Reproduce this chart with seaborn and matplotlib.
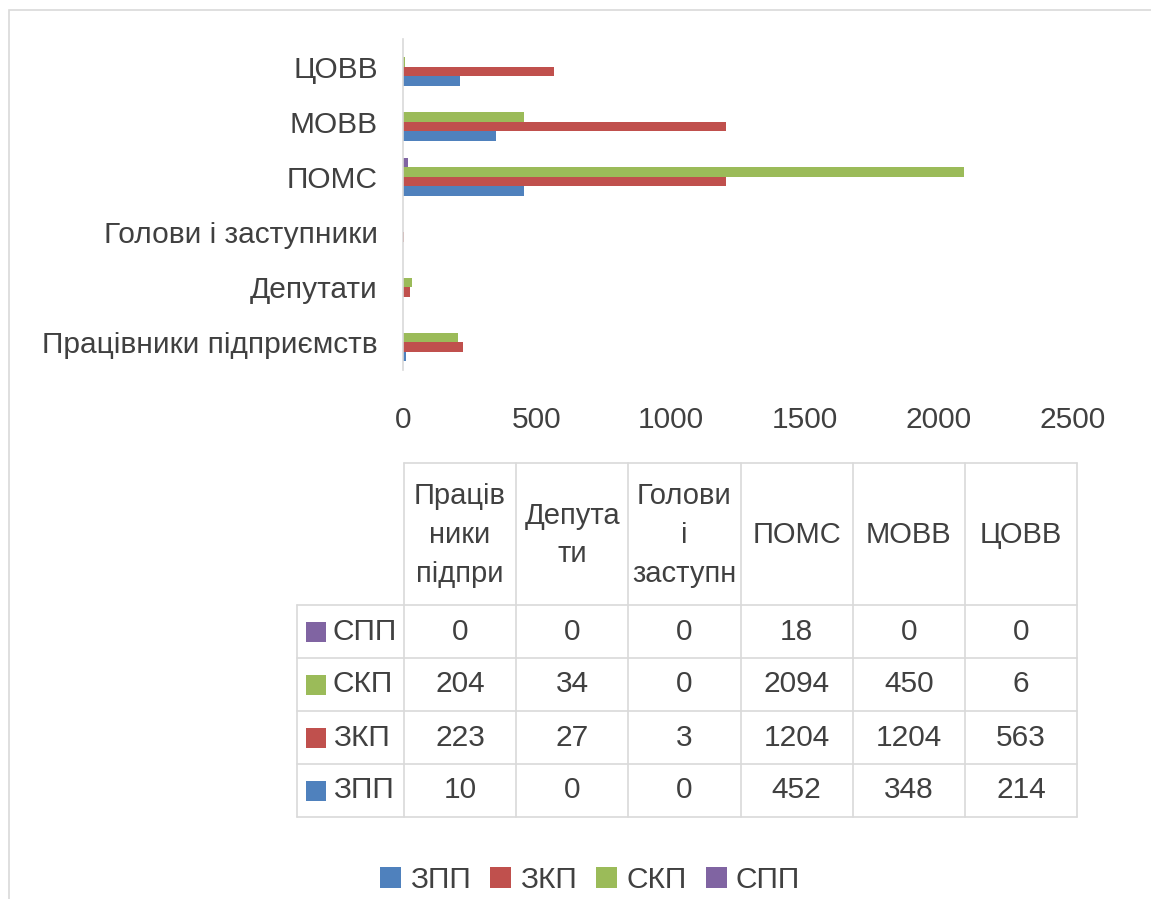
import matplotlib
matplotlib.use('Agg')
import matplotlib.pyplot as plt
import seaborn as sns
import pandas as pd
from matplotlib.patches import Patch, Rectangle

# ---- data ----
categories = ['Працівники підприємств', 'Депутати', 'Голови і заступники', 'ПОМС', 'МОВВ', 'ЦОВВ']
table_headers = ['Праців\nники\nпідпри', 'Депута\nти', 'Голови\nі\nзаступн', 'ПОМС', 'МОВВ', 'ЦОВВ']
series = ['ЗПП', 'ЗКП', 'СКП', 'СПП']
zpp = [10, 0, 0, 452, 348, 214]
zkp = [223, 27, 3, 1204, 1204, 563]
skp = [204, 34, 0, 2094, 450, 6]
spp = [0, 0, 0, 18, 0, 0]
values = {'ЗПП': zpp, 'ЗКП': zkp, 'СКП': skp, 'СПП': spp}
colors = ['#4F81BD', '#C0504D', '#9BBB59', '#8064A2']
x_ticks = [0, 500, 1000, 1500, 2000, 2500]

W, H = 1151, 899
sns.set_theme(style='white')
plt.rcParams['font.family'] = ['Liberation Sans', 'DejaVu Sans']
TXT = '#404040'
GRID = '#d9d9d9'
FS = 21.5

fig = plt.figure(figsize=(W / 100, H / 100), dpi=100)
fig.patch.set_facecolor('white')


def fx(px):
    return px / W


def fy(py):
    return 1 - py / H


# chart border
fig.add_artist(Rectangle((fx(9), fy(1000)), fx(1300), fy(10) - fy(1000),
                         transform=fig.transFigure, fill=False,
                         edgecolor=GRID, linewidth=1.2))

rows = []
for s in series:
    for c, v in zip(categories, values[s]):
        rows.append({'cat': c, 'series': s, 'value': v})
df = pd.DataFrame(rows)

ax = fig.add_axes([fx(403), fy(370), fx(1073) - fx(403), fy(39) - fy(370)])
sns.barplot(data=df, y='cat', x='value', hue='series',
            order=categories[::-1], hue_order=series[::-1],
            palette=dict(zip(series, colors)), width=0.69, saturation=1,
            linewidth=0, legend=False, ax=ax, orient='h')
ax.set_xlim(0, 2500)
ax.set_xticks(x_ticks)
ax.set_ylim(5.5, -0.5)
ax.set_xlabel('')
ax.set_ylabel('')
for sp in ['top', 'right', 'bottom']:
    ax.spines[sp].set_visible(False)
ax.spines['left'].set_color(GRID)
ax.spines['left'].set_linewidth(1.2)
ax.tick_params(axis='y', length=0, pad=18, labelsize=FS, labelcolor=TXT)
ax.tick_params(axis='x', length=0, pad=26, labelsize=FS, labelcolor=TXT)
ax.grid(False)
ax.set_facecolor('none')

# ---- data table ----
axt = fig.add_axes([0, 0, 1, 1])
axt.set_xlim(0, W)
axt.set_ylim(H, 0)
axt.axis('off')
axt.patch.set_visible(False)

x_rh = 297
x0 = 404
cw = 112.2
y_top = 463
y_hdr = 605
rh = 53
ncol = len(categories)
x_end = x0 + cw * ncol
table_rows = series[::-1]

# lines
axt.plot([x0, x_end], [y_top, y_top], color=GRID, lw=1.2)
for i in range(len(table_rows) + 1):
    y = y_hdr + i * rh
    axt.plot([x_rh, x_end], [y, y], color=GRID, lw=1.2)
y_bot = y_hdr + len(table_rows) * rh
axt.plot([x_rh, x_rh], [y_hdr, y_bot], color=GRID, lw=1.2)
for j in range(ncol + 1):
    x = x0 + j * cw
    axt.plot([x, x], [y_top, y_bot], color=GRID, lw=1.2)

for j, h in enumerate(table_headers):
    axt.text(x0 + (j + 0.5) * cw, (y_top + y_hdr) / 2 + 1, h, ha='center', va='center',
             fontsize=FS - 0.5, color=TXT, linespacing=1.5)

for i, s in enumerate(table_rows):
    yc = y_hdr + (i + 0.5) * rh
    axt.add_patch(Rectangle((306, yc - 10), 20, 20, color=colors[series.index(s)], lw=0))
    axt.text(333, yc, s, ha='left', va='center', fontsize=FS, color=TXT)
    for j, v in enumerate(values[s]):
        axt.text(x0 + (j + 0.5) * cw, yc, str(v), ha='center', va='center',
                 fontsize=FS, color=TXT)

# ---- legend ----
handles = [Patch(facecolor=c, edgecolor='none') for c in colors]
leg = fig.legend(handles, series, loc='center', bbox_to_anchor=(fx(590), fy(880)),
                 ncol=4, frameon=False, fontsize=FS, handlelength=0.7,
                 handleheight=0.7, handletextpad=0.3, columnspacing=0.65)
for t in leg.get_texts():
    t.set_color(TXT)

fig.savefig('out.png', dpi=100)
